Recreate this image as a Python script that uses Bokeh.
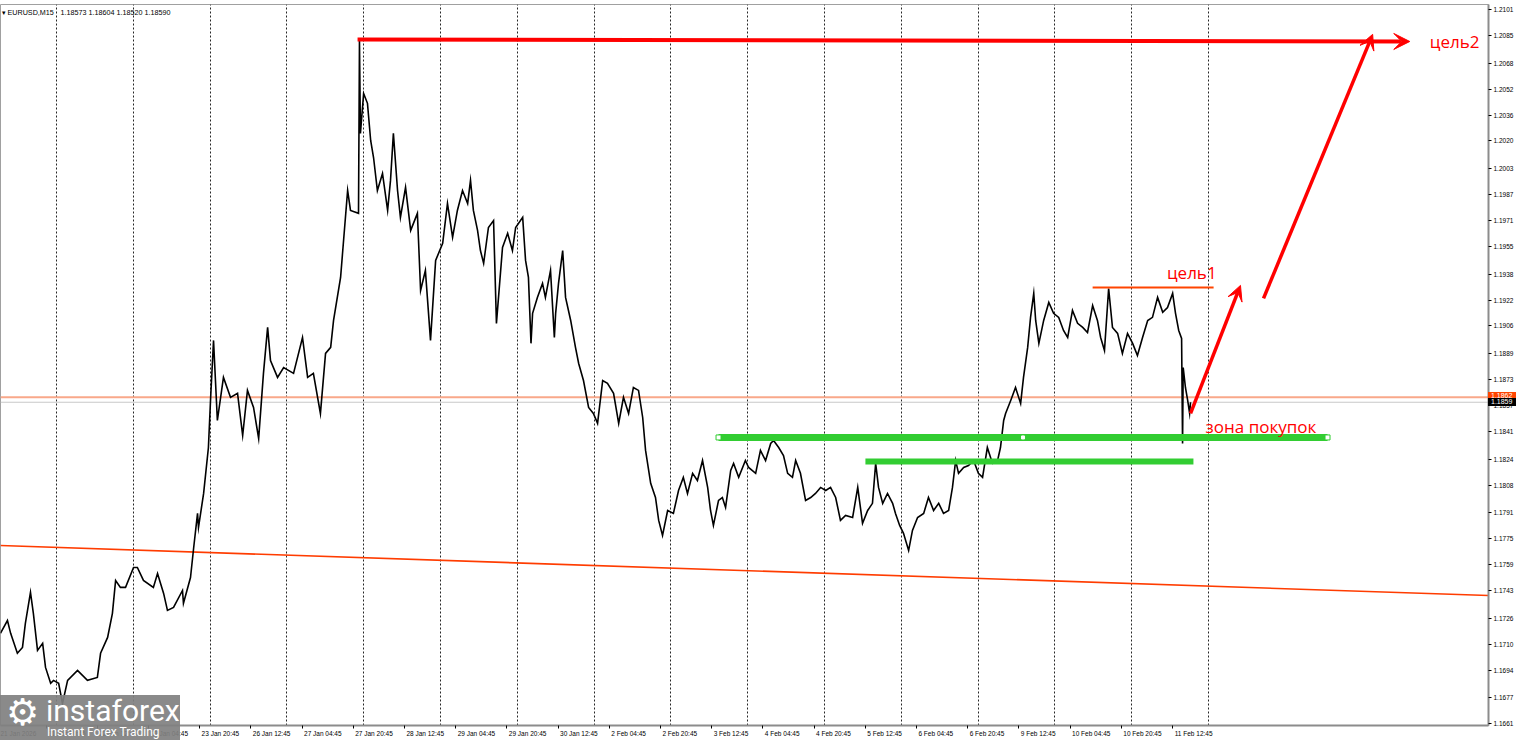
from bokeh.plotting import figure
from bokeh.layouts import column
from bokeh.models import (Range1d, FixedTicker, PrintfTickFormatter, Grid, Arrow,
                          VeeHead, Label, Span, Div)
from bokeh.embed import file_html
from bokeh.resources import INLINE

# ---------------- data (trading hours since 21 Jan 00:00, EURUSD M15 close) -------------
hours = [
    6.5, 8.7, 9.7, 11.8, 13.4, 14.3, 15.9, 16.8, 18.1, 19.7,
    20.6, 22.2, 23.1, 24.7, 25.9, 27.5, 30.6, 33.7, 36.8, 37.8,
    40.0, 41.5, 42.5, 44.0, 45.6, 48.1, 49.3, 51.2, 54.3, 55.6,
    57.5, 58.7, 60.6, 63.4, 63.7, 65.9, 66.9, 68.1, 68.4, 70.0,
    71.5, 72.2, 73.1, 74.3, 76.2, 78.4, 80.6, 82.2, 83.7, 85.6,
    87.2, 88.7, 90.0, 90.9, 93.1, 95.0, 98.1, 100.9, 102.5, 104.3,
    106.5, 108.1, 109.7, 110.6, 112.8, 115.0, 115.9, 118.4, 118.7, 119.0,
    120.0, 121.2, 122.2, 123.1, 124.3, 125.9, 127.5, 128.4, 129.3, 130.6,
    131.5, 133.1, 134.7, 136.8, 137.8, 139.3, 140.9, 142.5, 144.7, 146.2,
    147.8, 149.3, 150.9, 152.5, 153.4, 154.3, 155.6, 156.5, 157.5, 159.0,
    160.6, 161.5, 163.4, 165.0, 166.5, 167.5, 169.7, 170.6, 171.5, 172.3,
    172.8, 174.3, 175.9, 176.8, 178.4, 179.6, 180.0, 180.9, 182.2, 183.1,
    184.7, 186.2,
    187.2, 188.7, 190.3, 191.8, 193.1, 194.7, 196.2, 198.1, 199.7, 201.2,
    202.8, 204.3, 205.9, 207.2, 208.1, 209.7, 211.2, 212.2, 213.4, 215.0,
    216.8, 218.4, 219.9, 221.2, 222.8, 224.3, 225.9, 227.5, 228.4, 229.3,
    230.9, 232.1, 233.1, 234.7, 235.6, 237.2, 239.3, 240.3, 242.5, 244.0,
    245.6, 247.2, 248.1, 249.7, 251.2, 252.5, 254.0, 255.0, 256.5, 258.1,
    259.7, 261.2, 262.8, 264.4, 265.9, 267.5, 269.0, 270.6, 272.8, 274.4,
    275.9, 277.5, 279.0, 280.0, 280.9, 282.2, 283.7, 285.3, 286.2, 287.5,
    288.7, 290.3, 291.5, 293.1, 295.0, 296.5, 298.1, 299.7, 301.2, 302.8,
    304.0, 305.0, 305.9, 307.5, 309.0, 310.6, 312.1, 313.4, 314.9, 316.5,
    318.1, 319.0, 320.0, 320.6, 322.2, 323.7, 325.3, 326.2, 327.5, 328.4,
    329.4, 330.0, 331.0, 332.5, 334.1, 335.6, 337.2, 338.7, 340.0, 341.5,
    343.1, 344.7, 346.2, 347.8, 349.3, 350.3, 351.5, 352.8, 354.0, 355.6,
    357.1, 358.7, 360.3, 361.8, 363.4, 365.0, 366.5, 368.1, 369.7, 371.2,
    372.8, 373.7, 374.7, 375.6, 375.9, 376.1, 376.8, 377.5, 378.1, 378.4]

close = [
    1.17166, 1.17245, 1.17166, 1.17043, 1.17079, 1.17227, 1.17418, 1.17289, 1.17061, 1.17104,
    1.16956, 1.16858, 1.16876, 1.16858, 1.16734, 1.16876, 1.16937, 1.16876, 1.16894, 1.17043,
    1.17141, 1.17289, 1.17492, 1.17449, 1.17449, 1.17572, 1.17572, 1.17492, 1.17449, 1.17535,
    1.17412, 1.17307, 1.17326, 1.17430, 1.17351, 1.17510, 1.17695, 1.17905, 1.17819, 1.18028,
    1.18311, 1.18620, 1.18971, 1.18478, 1.18743, 1.18620, 1.18645, 1.18385, 1.18663, 1.18558,
    1.18367, 1.18768, 1.19051, 1.18847, 1.18743, 1.18804, 1.18768, 1.18989, 1.18743, 1.18768,
    1.18521, 1.18891, 1.18928, 1.19094, 1.19359, 1.19895, 1.19772, 1.19754, 1.20819, 1.20247,
    1.20493, 1.20432, 1.20203, 1.20098, 1.19895, 1.20000, 1.19772, 1.19957, 1.20247, 1.19895,
    1.19729, 1.19914, 1.19649, 1.19754, 1.19279, 1.19402, 1.18971, 1.19464, 1.19569, 1.19815,
    1.19606, 1.19772, 1.19895, 1.19815, 1.19957, 1.19772, 1.19649, 1.19525, 1.19446, 1.19667,
    1.19710, 1.19076, 1.19544, 1.19631, 1.19525, 1.19667, 1.19729, 1.19464, 1.19359, 1.18953,
    1.19138, 1.19236, 1.19322, 1.19236, 1.19402, 1.18989, 1.19138, 1.19322, 1.19525, 1.19236,
    1.19094, 1.18928,
    1.18829, 1.18724, 1.18558, 1.18521, 1.18460, 1.18724, 1.18706, 1.18645, 1.18460, 1.18620,
    1.18521, 1.18681, 1.18663, 1.18496, 1.18293, 1.18090, 1.18003, 1.17862, 1.17769, 1.17923,
    1.17905, 1.18046, 1.18127, 1.18028, 1.18152, 1.18108, 1.18231, 1.18065, 1.17923, 1.17831,
    1.17985, 1.18003, 1.17942, 1.18170, 1.18213, 1.18127, 1.18231, 1.18188, 1.18152, 1.18293,
    1.18231, 1.18336, 1.18354, 1.18311, 1.18262, 1.18152, 1.18127, 1.18231, 1.18152, 1.17985,
    1.18003, 1.18028, 1.18065, 1.18046, 1.18065, 1.18003, 1.17862, 1.17892, 1.17880, 1.18065,
    1.17844, 1.17923, 1.17967, 1.18213, 1.18065, 1.17967, 1.18028, 1.17967, 1.17905, 1.17831,
    1.17782, 1.17677, 1.17800, 1.17880, 1.17905, 1.18003, 1.17923, 1.17967, 1.17905, 1.17923,
    1.18065, 1.18231, 1.18152, 1.18188, 1.18200, 1.18231, 1.18152, 1.18127, 1.18311, 1.18213,
    1.18231, 1.18311, 1.18478, 1.18521, 1.18601, 1.18681, 1.18583, 1.18743, 1.18928, 1.19113,
    1.19261, 1.19094, 1.18953, 1.19094, 1.19205, 1.19138, 1.19113, 1.19032, 1.18989, 1.19156,
    1.19076, 1.19051, 1.19020, 1.19186, 1.19094, 1.18989, 1.18909, 1.19291, 1.19051, 1.19014,
    1.18891, 1.19014, 1.18953, 1.18878, 1.18989, 1.19094, 1.19113, 1.19236, 1.19144, 1.19174,
    1.19261, 1.19138, 1.19032, 1.18983, 1.18336, 1.18804, 1.18681, 1.18601, 1.18521, 1.18590]

x_tick_hours = [4.75, 20.75, 36.75, 52.75, 68.75, 84.75, 100.75, 116.75, 132.75, 148.75,
                164.75, 180.75, 196.75, 212.75, 228.75, 244.75, 260.75, 276.75, 292.75,
                308.75, 324.75, 340.75, 356.75, 372.75]
x_tick_labels = ["21 Jan 2026", "21 Jan 20:45", "22 Jan 12:45", "23 Jan 04:45", "23 Jan 20:45",
                 "26 Jan 12:45", "27 Jan 04:45", "27 Jan 20:45", "28 Jan 12:45", "29 Jan 04:45",
                 "29 Jan 20:45", "30 Jan 12:45", "2 Feb 04:45", "2 Feb 20:45", "3 Feb 12:45",
                 "4 Feb 04:45", "4 Feb 20:45", "5 Feb 12:45", "6 Feb 04:45", "6 Feb 20:45",
                 "9 Feb 12:45", "10 Feb 04:45", "10 Feb 20:45", "11 Feb 12:45"]
day_start_hours = [24, 48, 72, 96, 120, 144, 168, 192, 216, 240, 264, 288, 312, 336, 360, 384]
y_tick_values = [1.1661, 1.1677, 1.1694, 1.1710, 1.1726, 1.1743, 1.1759, 1.1775, 1.1791,
                 1.1808, 1.1824, 1.1841, 1.1857, 1.1873, 1.1889, 1.1906, 1.1922, 1.1938,
                 1.1955, 1.1971, 1.1987, 1.2003, 1.2020, 1.2036, 1.2052, 1.2068, 1.2085, 1.2101]

symbol = "EURUSD,M15"
ohlc = "1.18573 1.18604 1.18520 1.18590"
ask_price = 1.18620
bid_price = 1.18590
ask_tag = "1.1862"
bid_tag = "1.1859"

trend_hours = [6.53, 471.5]
trend_prices = [1.17707, 1.17399]
target2_hours = [118.1, 446.9]
target2_prices = [1.20826, 1.20813]
target1_hours = [347.8, 385.6]
target1_price = 1.19297
arrow1_hours = [378.4, 394.0]
arrow1_prices = [1.18521, 1.19310]
arrow2_hours = [401.2, 435.3]
arrow2_prices = [1.19230, 1.20857]
zone_start_hours = [230.9, 276.8]
zone_end_hours = [421.2, 379.3]
zone_prices = [1.18373, 1.18225]

# ---------------- layout ----------------
X0, X1 = 6.53, 471.5
Y0, Y1 = 1.16598, 1.21041
FW, FH = 1488, 721
TOP, BOTTOM, RIGHT = 4, 15, 28
PXH = FW / (X1 - X0)
PXP = FH / (Y1 - Y0)
AX_FONT = "Liberation Sans"
AX_FS = 6.5

EM = {d: 0.556 for d in "0123456789"}
EM.update({" ": 0.278, ":": 0.278, "J": 0.5, "F": 0.611, "a": 0.556, "n": 0.556,
           "e": 0.556, "b": 0.556})


def text_w(s):
    return sum(EM.get(ch, 0.556) for ch in s) * AX_FS


centers, overrides = [], {}
for t, lab in zip(x_tick_hours, x_tick_labels):
    w = text_w(lab)
    c = X0 + (w / 2 - 2) / PXH if t < X0 else t + (2 + w / 2) / PXH
    c = round(c, 4)
    centers.append(c)
    overrides[c] = lab

p = figure(frame_width=FW, frame_height=FH, x_range=Range1d(X0, X1), y_range=Range1d(Y0, Y1),
           y_axis_location="right", output_backend="svg", toolbar_location=None,
           min_border_left=0, min_border_top=TOP, min_border_right=RIGHT,
           min_border_bottom=BOTTOM,
           background_fill_color="white", border_fill_color="white",
           outline_line_color="#a0a0a0", outline_line_width=1)
p.xgrid.visible = False
p.ygrid.visible = False

xa = p.xaxis[0]
xa.ticker = FixedTicker(ticks=centers, minor_ticks=[t for t in x_tick_hours if t >= X0])
xa.major_label_overrides = overrides
xa.major_tick_out = 0
xa.major_tick_in = 0
xa.minor_tick_out = 3
xa.minor_tick_in = 0
xa.minor_tick_line_color = "black"
xa.axis_line_color = "#8c8c8c"
xa.axis_line_width = 2
xa.major_label_text_font = AX_FONT
xa.major_label_text_font_size = f"{AX_FS}px"
xa.major_label_text_color = "black"
xa.major_label_standoff = 1

ya = p.yaxis[0]
ya.ticker = FixedTicker(ticks=y_tick_values)
ya.formatter = PrintfTickFormatter(format="%.4f")
ya.major_tick_out = 3
ya.major_tick_in = 0
ya.minor_tick_out = 0
ya.minor_tick_in = 0
ya.major_tick_line_color = "black"
ya.axis_line_color = "#8c8c8c"
ya.axis_line_width = 2
ya.major_label_text_font = AX_FONT
ya.major_label_text_font_size = f"{AX_FS}px"
ya.major_label_text_color = "black"
ya.major_label_standoff = 2

p.add_layout(Grid(dimension=0, ticker=FixedTicker(ticks=day_start_hours),
                  grid_line_color="black", grid_line_dash="2 2", grid_line_width=1,
                  grid_line_alpha=0.85))

p.add_layout(Span(location=ask_price, dimension="width", line_color="#f9a88a",
                  line_width=2, level="underlay"))
p.add_layout(Span(location=bid_price, dimension="width", line_color="#c8c8c8",
                  line_width=1, level="underlay"))

p.line(trend_hours, trend_prices, line_color="#ff3c00", line_width=1.6)

p.line(hours, close, line_color="black", line_width=1.6, line_join="miter")

p.segment(x0=zone_start_hours, y0=zone_prices, x1=zone_end_hours, y1=zone_prices,
          line_color="#32cd32", line_width=[7, 6], line_cap="butt")
p.scatter([zone_start_hours[0], zone_end_hours[0]], [zone_prices[0], zone_prices[0]],
          marker="square", size=5, fill_color="white", line_color="#32cd32", line_width=1)
p.scatter([(zone_start_hours[0] + zone_end_hours[0]) / 2], [zone_prices[0]],
          marker="square", size=3, fill_color="white", line_color="white")

p.segment(x0=[target1_hours[0]], y0=[target1_price], x1=[target1_hours[1]], y1=[target1_price],
          line_color="#ff4500", line_width=2)

RED = "#ff0000"
p.add_layout(Arrow(end=VeeHead(size=16, fill_color=RED, line_color=RED),
                   x_start=target2_hours[0], y_start=target2_prices[0],
                   x_end=target2_hours[1], y_end=target2_prices[1],
                   line_color=RED, line_width=4))
p.add_layout(Arrow(end=VeeHead(size=15, fill_color=RED, line_color=RED),
                   x_start=arrow1_hours[0], y_start=arrow1_prices[0],
                   x_end=arrow1_hours[1], y_end=arrow1_prices[1],
                   line_color=RED, line_width=3.5))
p.add_layout(Arrow(end=VeeHead(size=15, fill_color=RED, line_color=RED),
                   x_start=arrow2_hours[0], y_start=arrow2_prices[0],
                   x_end=arrow2_hours[1], y_end=arrow2_prices[1],
                   line_color=RED, line_width=3.5))

TF = "Open Sans"
p.add_layout(Label(x=target2_hours[1], y=target2_prices[1], x_offset=20, text="цель2",
                   text_font=TF, text_font_size="17px", text_color=RED,
                   text_baseline="middle", text_align="left"))
p.add_layout(Label(x=target1_hours[1], y=target1_price, x_offset=3, y_offset=15, text="цель1",
                   text_font=TF, text_font_size="17px", text_color=RED,
                   text_baseline="middle", text_align="right"))
p.add_layout(Label(x=arrow1_hours[0], y=zone_prices[0], x_offset=15, y_offset=11,
                   text="зона покупок", text_font=TF, text_font_size="17px", text_color=RED,
                   text_baseline="middle", text_align="left"))

# header
p.add_layout(Label(x=X0, y=Y1, x_offset=1, y_offset=-8, text="▾ " + symbol,
                   text_font=AX_FONT, text_font_size="7.2px", text_color="black",
                   text_baseline="middle"))
p.add_layout(Label(x=X0, y=Y1, x_offset=60, y_offset=-8, text=ohlc,
                   text_font=AX_FONT, text_font_size="7.2px", text_color="black",
                   text_baseline="middle"))

# ---------------- overlays that reach outside the plot frame ----------------
fig_h = TOP + FH + BOTTOM
bid_top = TOP + round((Y1 - bid_price) * PXP) - 4
ask_top = TOP + round((Y1 - ask_price) * PXP) - 5

tag_css = ("position:absolute;left:0;width:28px;height:8px;font-family:'Liberation Sans';"
           "font-size:7px;line-height:8px;color:white;padding-left:3px;")
tags = Div(text=(f'<div style="{tag_css}top:{ask_top - bid_top}px;background:#ff4500;">{ask_tag}</div>'
                 f'<div style="{tag_css}top:0px;background:#000;">{bid_tag}</div>'),
           width=28, height=20,
           styles={"position": "absolute", "left": f"{FW}px", "top": f"{bid_top}px",
                   "z-index": "10", "margin": "0", "overflow": "visible"})

logo = Div(text=('<div style="position:absolute;left:0;top:0;width:180px;height:45px;'
                 'background:rgba(128,128,128,0.92);color:white;font-family:Roboto;">'
                 '<span style="position:absolute;left:6px;top:-2px;font-family:\'DejaVu Sans\';'
                 'font-size:37px;line-height:40px;">&#9881;</span>'
                 '<span style="position:absolute;left:46px;top:-1px;font-size:30px;'
                 'line-height:34px;">instaforex</span>'
                 '<span style="position:absolute;left:47px;top:30px;font-size:12px;'
                 'line-height:14px;">Instant Forex Trading</span></div>'),
           width=180, height=45,
           styles={"position": "absolute", "left": "0px", "top": f"{fig_h - 45}px",
                   "z-index": "10", "margin": "0", "overflow": "visible"})

layout = column(p, logo, tags, spacing=0)

open("out.html", "w").write(file_html(layout, INLINE))
